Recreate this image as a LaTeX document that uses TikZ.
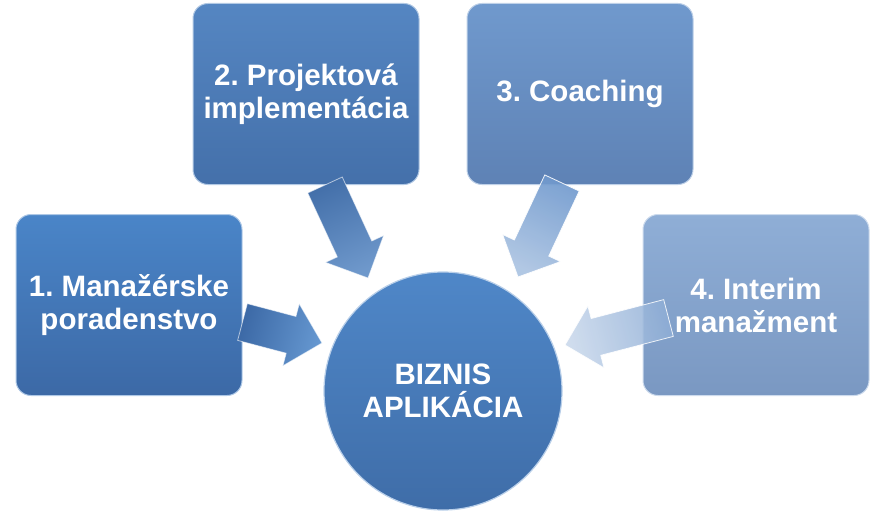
\documentclass[tikz,border=0pt]{standalone}
\usepackage{fontspec}
\setmainfont{Liberation Sans}
\usetikzlibrary{calc}
\frenchspacing

\definecolor{boxAtop}{HTML}{4A85C8}
\definecolor{boxAbot}{HTML}{3C69A6}
\definecolor{boxBtop}{HTML}{5586C2}
\definecolor{boxBbot}{HTML}{4470AA}
\definecolor{boxCtop}{HTML}{7099CD}
\definecolor{boxCbot}{HTML}{5E82B5}
\definecolor{boxDtop}{HTML}{8FAED6}
\definecolor{boxDbot}{HTML}{7A98C2}
\definecolor{hubtop}{HTML}{4F87C8}
\definecolor{hubbot}{HTML}{3F6DA8}

% block arrow from #2 to #3
\newcommand{\blockarrow}[3]{%
    \path ($(#3)!32pt!(#2)$) coordinate (hd);
    \path[#1] ($(#2)!19pt!90:(#3)$) -- ($(hd)!19pt!90:(#3)$) -- ($(hd)!32pt!90:(#3)$)
        -- (#3) -- ($(hd)!32pt!-90:(#3)$) -- ($(hd)!19pt!-90:(#3)$) -- ($(#2)!19pt!-90:(#3)$) -- cycle;
}

\begin{document}
\begin{tikzpicture}[x=1pt, y=-1pt,
    box/.style 2 args={rectangle, rounded corners=15pt, minimum width=226pt, minimum height=181pt,
        top color=#1, bottom color=#2, draw=#1!45!white, line width=1pt,
        text=white, align=center, font=\bfseries\fontsize{29.5}{33}\selectfont},
    hub/.style={circle, minimum size=238pt, inner sep=0pt,
        top color=hubtop, bottom color=hubbot, draw=hubtop!40!white, line width=1.2pt,
        text=white, align=center, font=\bfseries\fontsize{29.5}{33}\selectfont},
    flow/.style n args={3}{top color=#1, bottom color=#2, shading angle=#3,
        draw=white, draw opacity=.6, line width=.8pt}]
    \useasboundingbox (0,0) rectangle (886,519);

    % Boxes
    \node[box={boxAtop}{boxAbot}] (m1) at (129,305) {1. Manažérske\\poradenstvo};
    \node[box={boxBtop}{boxBbot}] (m2) at (306,94) {2. Projektová\\implementácia};
    \node[box={boxCtop}{boxCbot}] (m3) at (580,94) {3. Coaching};
    \node[box={boxDtop}{boxDbot}] (m4) at (756,305) {4. Interim\\manažment};

    % Centre
    \node[hub] (biz) at (443,391) {BIZNIS\\APLIKÁCIA};

    % Arrow ends
    \coordinate (t1) at ($(m1.east)+(0,17)$);
    \coordinate (t2) at ($(m2.south)+(19,0)$);
    \coordinate (t3) at ($(m3.south)+(-18,-2)$);
    \coordinate (t4) at ($(m4.west)+(26,13)$);
    \coordinate (p1) at ($(biz.center)+(-121,-48)$);
    \coordinate (p2) at ($(biz.center)+(-75,-113)$);
    \coordinate (p3) at ($(biz.center)+(75,-114)$);
    \coordinate (p4) at ($(biz.center)+(122,-46)$);

    % Arrows
    \blockarrow{flow={boxAbot}{boxAtop!85!white}{75}}{t1}{p1}
    \blockarrow{flow={boxBbot}{boxBtop!85!white}{25}}{t2}{p2}
    \blockarrow{flow={boxCtop}{boxCtop!60!white}{-26}, opacity=.9}{t3}{p3}
    \blockarrow{flow={boxDtop}{boxDtop!50!white}{-76}, opacity=.85}{t4}{p4}
\end{tikzpicture}
\end{document}
